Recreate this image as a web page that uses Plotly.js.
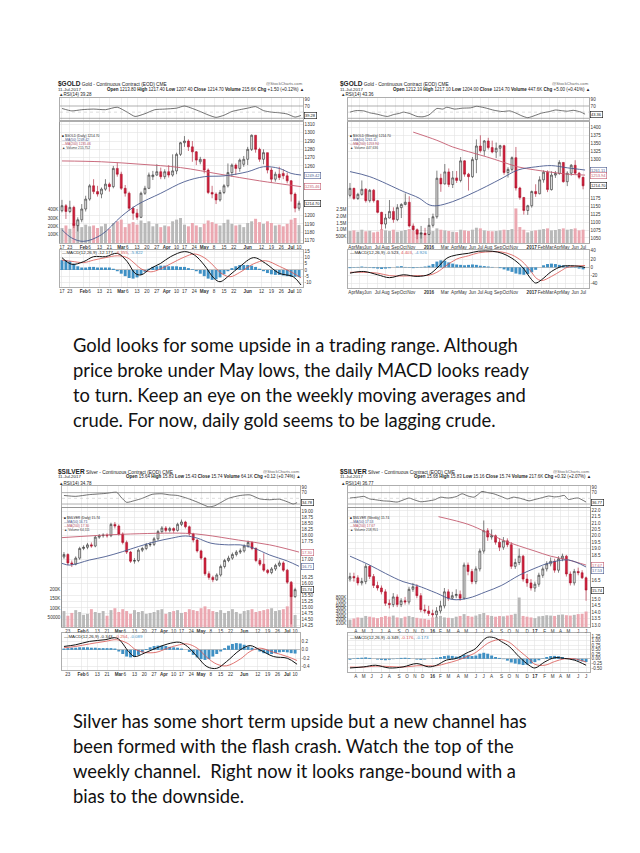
<!DOCTYPE html>
<html><head><meta charset="utf-8">
<script src="https://cdn.plot.ly/plotly-3.0.1.min.js"></script>
<style>html,body{margin:0;padding:0;background:#fff;}#page{width:640px;height:853px;}</style>
</head><body><div id="page"></div>
<script>
// ================= DATA =================
// ---- $GOLD daily (2-session candles; x = session number counted from 17-Jan-2017)
const gdSession=[0,2,4,6,8,10,12,14,16,18,20,22,24,26,28,30,32,34,36,38,40,42,44,46,48,50,52,54,56,58,60,62,64,66,68,70,72,74,76,78,80,82,84,86,88,90,92,94,96,98,100,102,104,106,108,110,112,114,116,118,120];
const gdOpen=[1206,1212,1205,1210,1188,1195,1208,1220,1236,1229,1226,1232,1238,1235,1257,1250,1233,1227,1209,1203,1198,1227,1233,1247,1249,1253,1247,1253,1249,1254,1274,1288,1290,1283,1277,1265,1268,1255,1228,1226,1219,1228,1236,1252,1261,1257,1262,1268,1280,1297,1280,1268,1276,1255,1244,1250,1251,1248,1242,1226,1209];
const gdHigh=[1219,1214,1218,1212,1198,1214,1224,1238,1244,1236,1234,1244,1240,1260,1264,1253,1237,1229,1211,1208,1229,1236,1252,1254,1262,1258,1256,1261,1274,1276,1289,1296,1292,1290,1278,1271,1268,1257,1236,1228,1231,1238,1263,1263,1263,1269,1272,1283,1298,1297,1282,1280,1276,1258,1253,1259,1256,1252,1243,1228,1218];
const gdLow=[1204,1196,1203,1185,1181,1192,1205,1218,1226,1223,1221,1230,1229,1233,1247,1231,1223,1206,1195,1195,1197,1225,1232,1243,1248,1244,1244,1246,1247,1250,1272,1283,1278,1265,1261,1262,1251,1226,1221,1214,1217,1226,1234,1247,1249,1253,1259,1261,1278,1276,1265,1262,1251,1240,1241,1243,1244,1239,1217,1204,1206];
const gdClose=[1212,1205,1210,1188,1195,1208,1220,1236,1229,1226,1232,1238,1235,1257,1250,1233,1227,1209,1203,1198,1227,1233,1249,1249,1253,1247,1253,1249,1254,1274,1288,1290,1283,1277,1267,1268,1255,1228,1226,1219,1228,1236,1252,1261,1257,1267,1268,1280,1297,1280,1268,1276,1255,1244,1250,1246,1248,1242,1226,1209,1215];
const gdVolume=[180,210,170,240,260,190,220,200,210,180,200,230,170,240,260,280,190,230,250,220,270,240,260,200,230,190,210,200,260,280,300,220,200,240,210,190,230,270,250,230,210,240,280,230,210,220,190,240,260,290,250,230,260,240,210,220,200,230,280,300,215];
const gdMa50X=[0,5,11,20,30,38,50,62,72,82,94,102,110,116,121];
const gdMa50=[1183,1173,1169,1177,1199,1213,1227,1241,1247,1248,1253,1259,1257,1251,1249];
const gdMa200X=[0,20,40,60,80,100,121];
const gdMa200=[1266,1265,1262,1258,1250,1242,1235];
const gdRsiX=[0,5,10,16,22,28,33,37,42,47,52,58,62,66,70,74,78,82,86,90,94,98,102,106,110,114,118,121];
const gdRsi=[62,54,58,60,58,66,50,36,45,58,60,63,70,62,52,41,33,40,52,58,63,68,55,50,48,44,34,39.3];
const gdMacdX=[0,5,11,16,22,28,33,37,40,45,50,55,62,67,72,77,80,85,90,97,103,110,117,121];
const gdMacd=[10,4.6,6.8,10.8,10.8,13.5,6.8,-2.7,-4,1.4,5.4,10.8,14.9,12.2,4,-6.8,-9.5,-4,2.7,10,5.4,-2.7,-5.4,-12.2];
const gdSignal=[8,7,6,8,10,11.5,10,5,1,-1.5,1,5,10.5,13,10,3,-2,-5.5,-2,5,7.5,3,-2.5,-6.4];
const gdHist=[8,8,7,5,3,2,2,2.5,2.5,2,2,2,2,1,-1,-3,-5,-6.5,-7,-6,-4,-1.5,1,2.5,3,3.5,3.5,3,3,3,2.5,2.5,1.5,0.5,-1,-3,-5,-7,-8,-7.5,-6,-3.5,-1,1.5,3,4,4,4,3.5,2.5,1,-1,-2.5,-3.5,-4,-4,-4.5,-5,-5.5,-5.5,-5.8];
const gdTickAt=[0,4,11,14,19,24,30,33,38,43,48,53,58,62,67,72,77,82,87,94,101,106,111,116,120];
const gdTickText=["17","23","<b>Feb</b>","6","13","21","<b>Mar</b>","6","13","20","27","<b>Apr</b>","10","17","24","<b>May</b>","8","15","22","<b>Jun</b>","12","19","26","<b>Jul</b>","10"];

// ---- $GOLD weekly (2-week candles; x = week number counted from 30-Mar-2015)
const gwWeek=[0,2,4,6,8,10,12,14,16,18,20,22,24,26,28,30,32,34,36,38,40,42,44,46,48,50,52,54,56,58,60,62,64,66,68,70,72,74,76,78,80,82,84,86,88,90,92,94,96,98,100,102,104,106,108,110,112,114,116,118];
const gwOpen=[1185,1207,1175,1188,1204,1168,1201,1168,1131,1094,1113,1134,1108,1146,1156,1163,1088,1076,1062,1065,1061,1090,1117,1239,1221,1259,1219,1240,1232,1294,1252,1244,1298,1341,1326,1357,1336,1322,1334,1342,1257,1267,1304,1208,1178,1137,1152,1197,1190,1234,1258,1203,1249,1254,1289,1228,1255,1280,1255,1242];
const gwHigh=[1224,1209,1193,1232,1208,1205,1205,1170,1133,1126,1170,1147,1157,1160,1191,1182,1096,1080,1088,1082,1113,1127,1263,1253,1284,1270,1262,1262,1306,1296,1256,1306,1362,1375,1360,1367,1358,1352,1345,1345,1274,1308,1338,1212,1180,1155,1200,1220,1245,1264,1264,1261,1262,1296,1290,1261,1284,1296,1259,1244];
const gwLow=[1178,1170,1170,1184,1162,1162,1162,1128,1077,1080,1112,1098,1103,1113,1153,1083,1072,1046,1048,1058,1059,1083,1111,1196,1219,1211,1208,1224,1226,1244,1200,1240,1255,1320,1310,1330,1318,1303,1308,1250,1241,1260,1200,1171,1124,1123,1146,1180,1188,1225,1195,1200,1240,1250,1225,1214,1247,1250,1236,1204];
const gwClose=[1207,1175,1188,1204,1168,1201,1168,1131,1094,1113,1134,1108,1146,1156,1163,1088,1076,1062,1065,1061,1090,1117,1239,1221,1259,1219,1240,1232,1294,1252,1244,1298,1341,1326,1357,1336,1322,1334,1342,1257,1267,1304,1208,1178,1137,1152,1197,1190,1234,1258,1203,1249,1254,1289,1228,1255,1280,1255,1242,1215];
const gwVolume=[900,950,850,1000,880,920,800,850,1050,950,900,1000,850,900,980,1050,900,950,800,700,850,900,1100,1000,950,900,850,820,1000,950,900,1000,1150,1100,950,900,880,900,950,1000,980,1050,2600,1200,1000,800,900,950,1000,1050,1100,950,980,1050,1100,1000,1050,1100,950,1000];
const gwMa50X=[0,10,27,35,40,44,52,60,69,77,85,94,102,110,119];
const gwMa50=[1260,1244,1197,1176,1155,1152,1165,1186,1213,1239,1265,1275,1279,1272,1265];
const gwMa200X=[32,44,52,60,69,77,85,94,102,110,119];
const gwMa200=[1385,1359,1338,1323,1307,1291,1275,1265,1258,1252,1249];
const gwRsiX=[0,3,7,10,14,17,19,22,25,27,30,34,37,40,44,47,49,53,57,61,64,67,69,73,77,81,84,87,90,94,97,101,104,107,110,113,117,119];
const gwRsi=[50,55,54,48,43,38,36,42,46,50,46,36,35,41,62,60,66,60,63,64,69,66,63,56,52,54,47,38,32,40,47,52,57,55,53,56,50,43.4];
const gwMacdX=[0,7,14,20,27,34,40,44,49,54,60,65,72,77,82,87,92,94,97,102,107,110,117,119];
const gwMacd=[-14,-10,-18,-25,-18,-22,-17,-2,22,30,34,39,39,34,22,2,-30,-38,-30,-10,2,4,2,-0.5];
const gwSignal=[-12,-12,-14,-20,-21,-20,-19,-12,5,20,28,35,38,37,30,15,-12,-25,-32,-22,-8,0,4,4.4];
const gwHist=[-2,-1,1,2,1,-1,-2,-3,-4,-3,-2,0,2,3,1,-1,-2,-1,1,2,4,8,14,17,16,12,9,7,6,5,6,7,6,4,3,2,1,0,-2,-5,-8,-11,-15,-17,-18,-16,-12,-6,0,5,8,9,8,6,5,3,1,-1,-3,-4.9];
const gwTickAt=[1,5,9,14,18,23,27,31,40,48,53,57,62,66,70,75,79,83,92,97,101,105,109,114,118];
const gwTickText=["Apr","May","Jun","Jul","Aug","Sep","Oct","Nov","<b>2016</b>","Mar","Apr","May","Jun","Jul","Aug","Sep","Oct","Nov","<b>2017</b>","Feb","Mar","Apr","May","Jun","Jul"];

// ---- $SILVER daily (2-session candles)
const sdSession=[0,2,4,6,8,10,12,14,16,18,20,22,24,26,28,30,32,34,36,38,40,42,44,46,48,50,52,54,56,58,60,62,64,66,68,70,72,74,76,78,80,82,84,86,88,90,92,94,96,98,100,102,104,106,108,110,112,114,116,118,120];
const sdOpen=[16.95,17.10,17.20,16.85,16.80,17.05,17.45,17.50,17.60,17.55,17.92,17.98,18.00,17.98,18.45,18.38,18.05,17.70,17.30,16.92,16.95,17.38,17.45,17.60,17.62,17.85,18.15,18.30,18.20,18.28,18.20,18.45,18.55,18.35,18.05,17.80,17.35,17.05,16.40,16.25,16.15,16.35,16.70,16.95,17.05,17.20,17.30,17.35,17.55,17.70,17.45,16.95,16.80,16.55,16.45,16.60,16.75,16.85,16.55,16.05,15.45];
const sdHigh=[17.22,17.30,17.25,16.95,17.12,17.52,17.58,17.68,17.70,17.98,18.05,18.08,18.08,18.52,18.55,18.45,18.12,17.78,17.35,17.05,17.45,17.52,17.68,17.72,17.92,18.22,18.38,18.38,18.35,18.33,18.52,18.65,18.60,18.40,18.10,17.85,17.40,17.10,16.50,16.32,16.42,16.78,17.02,17.15,17.28,17.38,17.45,17.62,17.78,17.75,17.50,17.05,17.25,16.60,16.68,16.82,16.95,16.92,16.60,16.10,15.82];
const sdLow=[16.88,17.02,16.75,16.68,16.75,16.98,17.38,17.42,17.48,17.50,17.85,17.90,17.90,17.92,18.28,17.98,17.62,17.22,16.85,16.82,16.88,17.30,17.38,17.52,17.55,17.78,18.08,18.12,18.12,18.10,18.15,18.38,18.28,17.98,17.70,17.28,16.98,16.32,16.15,16.05,16.10,16.28,16.62,16.88,16.98,17.12,17.22,17.28,17.48,17.38,16.88,16.72,16.48,16.38,16.38,16.52,16.68,16.48,15.98,14.30,15.40];
const sdClose=[17.10,17.20,16.85,16.80,17.05,17.45,17.50,17.60,17.55,17.92,17.98,18.00,17.98,18.45,18.38,18.05,17.70,17.30,16.92,16.95,17.38,17.45,17.60,17.62,17.85,18.15,18.30,18.20,18.28,18.20,18.45,18.55,18.35,18.05,17.80,17.35,17.05,16.40,16.25,16.15,16.35,16.70,16.95,17.05,17.20,17.30,17.35,17.55,17.70,17.45,16.95,16.80,16.55,16.45,16.60,16.75,16.85,16.55,16.05,15.45,15.74];
const sdVolume=[70,85,60,75,90,80,65,70,95,80,75,85,60,90,100,80,95,85,70,90,80,85,70,75,80,90,95,70,80,85,90,75,80,95,90,85,100,110,95,85,80,90,75,85,95,80,70,85,90,95,80,85,90,95,100,85,90,95,110,225,64];
const sdMa50X=[1,5,15,23,32,40,49,57,64,70,77,86,92,99,107,116,122];
const sdMa50=[16.83,16.76,16.97,17.11,17.32,17.53,17.74,17.88,17.97,17.88,17.67,17.60,17.60,17.46,17.18,16.93,16.71];
const sdMa200X=[1,32,64,74,91,107,122];
const sdMa200=[17.90,18.04,18.08,18.01,17.80,17.60,17.30];
const sdRsiX=[2,8,15,23,29,31,34,38,42,47,52,56,60,65,70,73,76,79,82,86,92,97,102,107,112,116,119,121];
const sdRsi=[60,57,63,67,71,55,36,42,50,64,66,62,60,50,37,28,20,24,35,50,60,62,48,45,47,38,30,34.8];
const sdMacdX=[2,8,15,23,29,35,38,43,49,55,61,65,70,75,80,85,92,97,102,109,116,121];
const sdMacd=[0.08,0.12,0.2,0.24,0.28,-0.04,-0.16,-0.08,0.04,0.14,0.18,0.08,-0.16,-0.4,-0.44,-0.28,0,0.1,0,-0.16,-0.2,-0.343];
const sdSignal=[0.05,0.08,0.14,0.2,0.24,0.14,0.02,-0.06,-0.06,0.04,0.12,0.14,0.04,-0.18,-0.34,-0.38,-0.22,-0.04,0.04,-0.06,-0.16,-0.254];
const sdHist=[0.03,0.03,0.04,0.05,0.05,0.06,0.06,0.06,0.05,0.05,0.04,0.04,0.04,0.04,0.03,-0.04,-0.10,-0.16,-0.18,-0.17,-0.12,-0.06,0.02,0.06,0.09,0.10,0.10,0.09,0.07,0.06,0.05,0.03,0.0,-0.05,-0.12,-0.18,-0.22,-0.24,-0.22,-0.16,-0.10,-0.04,0.04,0.10,0.14,0.16,0.15,0.12,0.08,0.05,0.01,-0.04,-0.08,-0.10,-0.10,-0.08,-0.06,-0.05,-0.06,-0.08,-0.089];
const sdTickAt=[4,11,14,19,24,30,33,38,43,48,53,58,62,67,72,77,82,87,94,101,106,111,116,120];
const sdTickText=["23","<b>Feb</b>","6","13","21","<b>Mar</b>","6","13","20","27","<b>Apr</b>","10","17","24","<b>May</b>","8","15","22","<b>Jun</b>","12","19","26","<b>Jul</b>","10"];

// ---- $SILVER weekly (2-week candles)
const swWeek=[-2,0,2,4,6,8,10,12,14,16,18,20,22,24,26,28,30,32,34,36,38,40,42,44,46,48,50,52,54,56,58,60,62,64,66,68,70,72,74,76,78,80,82,84,86,88,90,92,94,96,98,100,102,104,106,108,110,112,114,116,118];
const swOpen=[16.6,16.8,16.7,16.3,16.4,17.6,16.8,16.1,15.9,15.6,14.7,14.6,15.2,14.6,14.9,14.8,15.8,16.0,15.3,14.2,14.1,13.9,13.8,14.1,14.5,15.6,15.1,15.3,15.4,15.1,17.7,17.2,16.4,17.4,18.8,20.4,19.9,20.0,19.5,19.1,19.6,19.3,17.6,17.9,18.4,16.6,16.3,15.9,16.2,16.9,17.4,17.8,18.0,17.3,18.2,18.4,17.0,16.3,17.2,17.1,16.7];
const swHigh=[17.1,17.1,16.9,16.7,17.8,17.7,17.0,16.4,16.1,15.8,15.0,15.5,15.4,15.1,15.2,16.0,16.3,16.2,15.5,14.6,14.5,14.2,14.4,14.9,15.9,15.8,15.6,15.8,15.7,17.9,17.9,17.4,17.6,19.0,21.2,20.6,20.5,20.1,19.8,19.9,19.8,19.5,18.2,19.0,18.5,17.0,16.6,16.4,17.1,17.6,18.0,18.3,18.2,18.4,18.6,18.5,17.2,17.4,17.5,17.3,16.8];
const swLow=[16.4,16.4,16.1,16.1,16.2,16.6,15.9,15.7,15.4,14.5,14.3,14.4,14.4,14.4,14.6,14.6,15.6,15.1,14.0,13.9,13.7,13.6,13.6,13.9,14.3,14.9,15.0,15.1,14.9,15.0,16.9,16.2,16.2,17.2,18.6,19.6,19.7,19.3,18.8,18.9,19.1,17.4,17.4,17.7,16.4,16.0,15.7,15.6,16.0,16.7,17.2,17.6,17.1,17.1,18.0,16.8,16.1,16.1,16.9,16.6,14.9];
const swClose=[16.8,16.7,16.3,16.4,17.6,16.8,16.1,15.9,15.6,14.7,14.6,15.2,14.6,14.9,14.8,15.8,16.0,15.3,14.2,14.1,13.9,13.8,14.1,14.5,15.6,15.1,15.3,15.4,15.1,17.7,17.2,16.4,17.4,18.8,20.4,19.9,20.0,19.5,19.1,19.6,19.3,17.6,17.9,18.4,16.6,16.3,15.9,16.2,16.9,17.4,17.8,18.0,17.3,18.2,18.4,17.0,16.3,17.2,17.1,16.7,15.74];
const swVolume=[200,230,260,250,300,280,260,240,270,300,280,310,260,240,280,300,270,250,230,220,200,260,280,300,260,250,240,280,300,350,300,280,310,350,380,320,300,280,300,290,310,330,360,800,300,280,260,240,290,300,320,310,300,330,340,320,310,330,350,360,420];
const swMa50X=[-2,8,16,25,32,42,50,58,67,75,84,92,100,109,118];
const swMa50=[18.4,17.7,17.05,16.4,16.1,15.5,15.0,15.1,15.6,16.1,16.9,17.45,17.9,18.1,17.55];
const swMa200X=[43,58,67,75,84,92,100,109,118];
const swMa200=[21.5,20.9,20.3,19.7,19.2,18.8,18.4,18.1,17.7];
const swRsiX=[-2,3,5,8,11,15,18,22,25,28,31,34,38,41,44,48,52,55,58,61,63,65,68,71,75,78,81,84,87,89,92,95,99,102,104,107,109,112,114,118];
const swRsi=[51,55,57,48,45,41,40,37,44,51,44,38,41,45,54,51,56,66,58,54,63,74,70,66,56,48,54,51,45,41,46,51,58,55,56,60,46,50,51,37];
const swMacdX=[-2,5,11,18,25,32,38,42,47,52,57,62,65,68,72,75,79,84,89,92,97,102,107,112,118];
const swMacd=[-0.5,-0.44,-0.35,-0.5,-0.44,-0.26,-0.44,-0.35,-0.07,0.02,0.3,0.57,0.94,1.18,1.13,0.94,0.67,0.11,-0.35,-0.5,-0.17,0.06,0.02,-0.07,-0.35];
const swSignal=[-0.45,-0.45,-0.4,-0.42,-0.45,-0.38,-0.38,-0.38,-0.25,-0.1,0.1,0.35,0.6,0.85,1.02,1.05,0.9,0.45,0.0,-0.3,-0.35,-0.15,0.0,0.0,-0.18];
const swHist=[-0.05,0.02,0.05,0.06,0.08,0.05,0.0,-0.04,-0.06,-0.08,-0.05,-0.02,0.02,0.05,0.06,0.04,0.0,-0.04,-0.06,-0.04,0.0,0.03,0.06,0.10,0.15,0.18,0.16,0.12,0.15,0.22,0.20,0.15,0.18,0.28,0.33,0.28,0.18,0.10,0.05,-0.02,-0.10,-0.20,-0.26,-0.30,-0.34,-0.32,-0.26,-0.18,-0.08,0.02,0.10,0.15,0.16,0.14,0.10,0.04,-0.02,-0.06,-0.10,-0.14,-0.173];
const swTickAt=[1,5,9,14,18,23,27,31,35,40,44,48,53,57,62,66,70,75,79,83,88,92,97,101,105,109,114,118];
const swTickText=["A","M","J","J","A","S","O","N","D","<b>16</b>","F","M","A","M","J","J","A","S","O","N","D","<b>17</b>","F","M","A","M","J","J"];

// ---- commentary text
const para1=["Gold looks for some upside in a trading range. Although","price broke under May lows, the daily MACD looks ready","to turn. Keep an eye on the weekly moving averages and","crude. For now, daily gold seems to be lagging crude."];
const para2=["Silver has some short term upside but a new channel has","been formed with the flash crash. Watch the top of the","weekly channel.\u00a0 Right now it looks range-bound with a","bias to the downside."];

// ================= BUILD =================
const W=640,H=853;
const px=v=>v/W, py=v=>1-v/H;
const CF='"Liberation Sans", Arial, sans-serif';
const TF={family:CF,size:4.6,color:'#333'};
const GRID='#e3e3e3', FRAME='#8c8c8c';
const MA50C='#4a5a8e', MA200C='#c45c70';
const layout={width:W,height:H,margin:{l:0,r:0,t:0,b:0},paper_bgcolor:'#fff',plot_bgcolor:'#fff',showlegend:false,
  font:{family:CF,size:5,color:'#222'},annotations:[],shapes:[],bargap:0.25};
const traces=[];
function T(x,y,text,o){layout.annotations.push(Object.assign({xref:'paper',yref:'paper',x:px(x),y:py(y),text:text,showarrow:false,xanchor:'left',yanchor:'middle',borderpad:0,font:{family:CF,size:4.8,color:'#222'}},o||{}));}
function BOX(x,y,text,col){layout.annotations.push({xref:'paper',yref:'paper',x:px(x),y:py(y),text:text,showarrow:false,xanchor:'left',yanchor:'middle',
  font:{family:CF,size:4.0,color:col},bgcolor:'#fff',bordercolor:col,borderwidth:0.6,borderpad:0.4});}
// keep ticks that are not hidden under a value box
function freeTicks(vals,toPx,boxY){return vals.filter(v=>boxY.every(b=>Math.abs(toPx(v)-b)>5.4));}

function addChart(i,c){
  const xP=3*i+1,xM=3*i+2,xR=3*i+3,yR=4*i+1,yV=4*i+2,yP=4*i+3,yM=4*i+4;
  const X=n=>n===1?'x':'x'+n, Y=n=>n===1?'y':'y'+n, XK=n=>n===1?'xaxis':'xaxis'+n, YK=n=>n===1?'yaxis':'yaxis'+n;
  const lastOf=a=>a[a.length-1];
  // price-scale value boxes (close, MA50, MA200), stacked so they do not collide
  const pPer=(c.price[1]-c.price[0])/(c.priceRange[1]-c.priceRange[0]);
  const pPx=v=>c.price[0]+(c.priceRange[1]-v)*pPer;
  const boxes=[{y:pPx(lastOf(c.close)),t:c.closeLabel,col:'#111'},{y:pPx(lastOf(c.ma50)),t:c.ma50Label,col:MA50C},{y:pPx(lastOf(c.ma200)),t:c.ma200Label,col:MA200C}];
  boxes.sort((a,b)=>a.y-b.y);
  for(let k=1;k<boxes.length;k++) if(boxes[k].y-boxes[k-1].y<5.8) boxes[k].y=boxes[k-1].y+5.8;
  const allP=[]; for(let k=Math.ceil(c.priceRange[0]/c.priceDtick-1e-9);k*c.priceDtick<=c.priceRange[1]+1e-9;k++) allP.push(+(k*c.priceDtick).toFixed(4));
  const priceTicks=freeTicks(allP,pPx,boxes.map(b=>b.y));
  // RSI value box
  const rPer=(c.rsi[1]-c.rsi[0])/(c.rsiRange[1]-c.rsiRange[0]);
  const rPx=v=>c.rsi[0]+(c.rsiRange[1]-v)*rPer;
  const rsiBoxY=rPx(lastOf(c.rsiV));
  const rsiTicks=freeTicks([10,30,50,70,90].filter(v=>v>c.rsiRange[0]&&v<c.rsiRange[1]),rPx,[rsiBoxY]);

  const baseX={domain:[px(c.left),px(c.right)],range:c.xRange,tickmode:'array',tickvals:c.tickAt,ticktext:c.tickText,tickfont:TF,ticks:'',ticklen:0,
    showgrid:true,gridcolor:GRID,gridwidth:0.6,zeroline:false,showline:true,linecolor:FRAME,linewidth:0.7,mirror:true,fixedrange:true,tickangle:0,automargin:false};
  layout[XK(xP)]=Object.assign({},baseX,{anchor:Y(yV),rangeslider:{visible:false}});
  layout[XK(xM)]=Object.assign({},baseX,{anchor:Y(yM),matches:X(xP)});
  layout[XK(xR)]=Object.assign({},baseX,{anchor:Y(yR),matches:X(xP),showticklabels:false});
  const baseY={tickfont:TF,ticks:'',zeroline:false,showline:true,linecolor:FRAME,linewidth:0.7,mirror:true,fixedrange:true,gridcolor:GRID,gridwidth:0.6,automargin:false};
  layout[YK(yR)]=Object.assign({},baseY,{domain:[py(c.rsi[1]),py(c.rsi[0])],range:c.rsiRange,tickmode:'array',tickvals:rsiTicks,side:'right',anchor:X(xR),showgrid:false});
  layout[YK(yV)]=Object.assign({},baseY,{domain:[py(c.price[1]),py(c.price[0])],range:c.volRange,tickmode:'array',tickvals:c.volTicks,ticktext:c.volText,side:'left',anchor:X(xP),showgrid:false});
  layout[YK(yP)]=Object.assign({},baseY,{overlaying:Y(yV),range:c.priceRange,tickmode:'array',tickvals:priceTicks,tickformat:c.priceFmt,side:'right',anchor:X(xP),showgrid:true});
  layout[YK(yM)]=Object.assign({},baseY,{domain:[py(c.macd[1]),py(c.macd[0])],range:c.macdRange,tickmode:'array',tickvals:c.macdTicks,ticktext:c.macdText,side:'right',anchor:X(xM),showgrid:true,zeroline:true,zerolinecolor:'#9a9a9a',zerolinewidth:0.6});
  // RSI guide lines
  [70,30].forEach(v=>layout.shapes.push({type:'line',xref:X(xR)+' domain',x0:0,x1:1,yref:Y(yR),y0:v,y1:v,line:{color:'#7a7a7a',width:0.6}}));
  layout.shapes.push({type:'line',xref:X(xR)+' domain',x0:0,x1:1,yref:Y(yR),y0:50,y1:50,line:{color:'#bbb',width:0.5,dash:'dot'}});
  // volume
  traces.push({type:'bar',x:c.x,y:c.vol,xaxis:X(xP),yaxis:Y(yV),width:c.barW,
    marker:{color:c.close.map((v,k)=>v>=c.open[k]?'#b9b9b9':'#eba8b1'),line:{width:0}},hoverinfo:'skip'});
  // candles
  traces.push({type:'candlestick',x:c.x,open:c.open,high:c.high,low:c.low,close:c.close,xaxis:X(xP),yaxis:Y(yP),whiskerwidth:0,
    increasing:{line:{color:'#2e2e2e',width:0.6},fillcolor:'#e4e4e4'},decreasing:{line:{color:'#a9122b',width:0.6},fillcolor:'#d21e3a'},hoverinfo:'skip'});
  traces.push({type:'scatter',mode:'lines',x:c.ma200x,y:c.ma200,xaxis:X(xP),yaxis:Y(yP),line:{color:MA200C,width:0.9,shape:'spline'},hoverinfo:'skip'});
  traces.push({type:'scatter',mode:'lines',x:c.ma50x,y:c.ma50,xaxis:X(xP),yaxis:Y(yP),line:{color:MA50C,width:0.9,shape:'spline'},hoverinfo:'skip'});
  // RSI
  traces.push({type:'scatter',mode:'lines',x:c.rsiX,y:c.rsiV,xaxis:X(xR),yaxis:Y(yR),line:{color:'#333',width:0.7,shape:'spline',smoothing:0.6},hoverinfo:'skip'});
  // MACD
  traces.push({type:'bar',x:c.x,y:c.hist,xaxis:X(xM),yaxis:Y(yM),width:c.barW,marker:{color:'#3f90c4',line:{width:0}},hoverinfo:'skip'});
  traces.push({type:'scatter',mode:'lines',x:c.macdX,y:c.signal,xaxis:X(xM),yaxis:Y(yM),line:{color:'#d9534f',width:0.8,shape:'spline'},hoverinfo:'skip'});
  traces.push({type:'scatter',mode:'lines',x:c.macdX,y:c.macdV,xaxis:X(xM),yaxis:Y(yM),line:{color:'#111',width:1,shape:'spline'},hoverinfo:'skip'});
  // value boxes
  boxes.forEach(b=>BOX(c.right+0.5,b.y,b.t,b.col));
  BOX(c.right+0.5,rsiBoxY,c.rsiLast,'#111');
  // texts
  const L=c.textLeft;
  T(L,c.hy[0],'<b style="font-size:6.5px">'+c.sym+'</b> '+c.title);
  T(c.right+1,c.hy[0]-1,'@StockCharts.com',{xanchor:'right',font:{family:CF,size:4.2,color:'#666'}});
  T(L,c.hy[1],'11-Jul-2017',{font:{family:CF,size:4.4,color:'#222'}});
  T(c.right+2,c.hy[1],c.quote,{xanchor:'right',font:{family:CF,size:4.5,color:'#222'}});
  T(L+1,c.hy[2],'<span style="color:#333">\u25B2</span>RSI(14) '+c.rsiLast,{font:{family:CF,size:4.5,color:'#222'}});
  const ly=c.legendY, LF=3.3;
  T(c.left+1,ly[0],'<b>\u25A0</b> '+c.sym+' ('+c.period+') '+c.closeLabel,{font:{family:CF,size:LF,color:'#222'}});
  T(c.left+1,ly[1],'<span style="color:'+MA50C+'">\u2014</span>MA(50) '+c.ma50Label,{font:{family:CF,size:LF,color:'#3b4a80'}});
  T(c.left+1,ly[2],'<span style="color:'+MA200C+'">\u2014</span>MA(200) '+c.ma200Label,{font:{family:CF,size:LF,color:'#b14a60'}});
  T(c.left+1,ly[3],'\u25B2 Volume '+c.volLabel,{font:{family:CF,size:LF,color:'#444'}});
  T(c.left+1,c.macdLabelY,'<span style="color:#111">\u2014</span>'+c.macdLabel,{font:{family:CF,size:4.4,color:'#222'}});
}

const charts=[
 {left:60,right:303,textLeft:57,hy:[84.5,89.5,94.5],rsi:[98,120],price:[122,243],macd:[250,287],
  x:gdSession,open:gdOpen,high:gdHigh,low:gdLow,close:gdClose,vol:gdVolume,barW:1.5,xRange:[-1,122],tickAt:gdTickAt,tickText:gdTickText,
  priceRange:[1167,1313],priceDtick:10,priceFmt:'d',volRange:[0,1450],volTicks:[100,200,300,400],volText:['100K','200K','300K','400K'],
  ma50x:gdMa50X,ma50:gdMa50,ma200x:gdMa200X,ma200:gdMa200,rsiX:gdRsiX,rsiV:gdRsi,rsiRange:[24.5,96],
  macdX:gdMacdX,macdV:gdMacd,signal:gdSignal,hist:gdHist,macdRange:[-13.8,16.2],macdTicks:[-10,-5,0,5,10,15],macdText:['-10','-5','0','5','10','15'],
  sym:'$GOLD',period:'Daily',title:'Gold - Continuous Contract (EOD) CME',closeLabel:'1214.70',ma50Label:'1249.42',ma200Label:'1235.46',volLabel:'215,752',
  quote:'<b>Open</b> 1213.80 <b>High</b> 1217.40 <b>Low</b> 1207.40 <b>Close</b> 1214.70 <b>Volume</b> 215.6K <b>Chg</b> +1.50 (+0.12%) \u25B2',
  rsiLast:'39.28',legendY:[135.5,139.7,143.9,148.1],
  macdLabel:'MACD(12,26,9) -12.177, <span style="color:#d9534f">-6.355</span>, <span style="color:#3f90c4">-5.822</span>',macdLabelY:252.5},
 {left:348,right:589,textLeft:339,hy:[84.5,89.5,94.5],rsi:[98,120],price:[122,243],macd:[250,288],
  x:gwWeek,open:gwOpen,high:gwHigh,low:gwLow,close:gwClose,vol:gwVolume,barW:1.5,xRange:[-1,121],tickAt:gwTickAt,tickText:gwTickText,
  priceRange:[1034,1417],priceDtick:25,priceFmt:'d',volRange:[0,9100],volTicks:[500,1000,1500,2000,2500],volText:['500K','1.0M','1.5M','2.0M','2.5M'],
  ma50x:gwMa50X,ma50:gwMa50,ma200x:gwMa200X,ma200:gwMa200,rsiX:gwRsiX,rsiV:gwRsi,rsiRange:[24.5,96],
  macdX:gwMacdX,macdV:gwMacd,signal:gwSignal,hist:gwHist,macdRange:[-50,42],macdTicks:[-40,-20,0,20,40],macdText:['-40','-20','0','20','40'],
  sym:'$GOLD',period:'Weekly',title:'Gold - Continuous Contract (EOD) CME',closeLabel:'1214.70',ma50Label:'1261.11',ma200Label:'1253.94',volLabel:'447,636',
  quote:'<b>Open</b> 1212.10 <b>High</b> 1217.10 <b>Low</b> 1204.00 <b>Close</b> 1214.70 <b>Volume</b> 447.6K <b>Chg</b> +5.00 (+0.41%) \u25B2',
  rsiLast:'43.36',legendY:[135.5,139.7,143.9,148.1],
  macdLabel:'MACD(12,26,9) -0.523, <span style="color:#d9534f">4.403</span>, <span style="color:#3f90c4">-4.926</span>',macdLabelY:252.5},
 {left:62,right:300,textLeft:57,hy:[472,477,483],rsi:[486,507],price:[508,627],macd:[633,670],
  x:sdSession,open:sdOpen,high:sdHigh,low:sdLow,close:sdClose,vol:sdVolume,barW:1.5,xRange:[1,122.5],tickAt:sdTickAt,tickText:sdTickText,
  priceRange:[14.19,19.13],priceDtick:0.25,priceFmt:'.2f',volRange:[0,634],volTicks:[50,100,150,200],volText:['50000','100K','150K','200K'],
  ma50x:sdMa50X,ma50:sdMa50,ma200x:sdMa200X,ma200:sdMa200,rsiX:sdRsiX,rsiV:sdRsi,rsiRange:[19.6,93.2],
  macdX:sdMacdX,macdV:sdMacd,signal:sdSignal,hist:sdHist,macdRange:[-0.48,0.4],macdTicks:[-0.4,-0.2,0,0.2],macdText:['-0.4','-0.2','0.0','0.2'],
  sym:'$SILVER',period:'Daily',title:'Silver - Continuous Contract (EOD) CME',closeLabel:'15.74',ma50Label:'16.71',ma200Label:'17.30',volLabel:'64,111',
  quote:'<b>Open</b> 15.64 <b>High</b> 15.83 <b>Low</b> 15.43 <b>Close</b> 15.74 <b>Volume</b> 64.1K <b>Chg</b> +0.12 (+0.74%) \u25B2',
  rsiLast:'34.78',legendY:[517.5,521.7,525.9,530.1],
  macdLabel:'MACD(12,26,9) -0.343, <span style="color:#d9534f">-0.254</span>, <span style="color:#3f90c4">-0.089</span>',macdLabelY:636},
 {left:348,right:590,textLeft:339,hy:[472,477,483],rsi:[486,507],price:[508,627],macd:[633,672],
  x:swWeek,open:swOpen,high:swHigh,low:swLow,close:swClose,vol:swVolume,barW:1.5,xRange:[-3,120],tickAt:swTickAt,tickText:swTickText,
  priceRange:[12.84,22.18],priceDtick:0.5,priceFmt:'.1f',volRange:[0,3230],volTicks:[100,200,300,400,500,600,700,800],volText:['100K','200K','300K','400K','500K','600K','700K','800K'],
  ma50x:swMa50X,ma50:swMa50,ma200x:swMa200X,ma200:swMa200,rsiX:swRsiX,rsiV:swRsi,rsiRange:[19.6,93.2],
  macdX:swMacdX,macdV:swMacd,signal:swSignal,hist:swHist,macdRange:[-0.72,1.41],macdTicks:[-0.5,-0.25,0,0.25,0.5,0.75,1,1.25],macdText:['-0.50','-0.25','0.00','0.25','0.50','0.75','1.00','1.25'],
  sym:'$SILVER',period:'Weekly',title:'Silver - Continuous Contract (EOD) CME',closeLabel:'15.74',ma50Label:'17.53',ma200Label:'17.67',volLabel:'218,951',
  quote:'<b>Open</b> 15.68 <b>High</b> 15.83 <b>Low</b> 15.16 <b>Close</b> 15.74 <b>Volume</b> 217.6K <b>Chg</b> +0.32 (+2.07%) \u25B2',
  rsiLast:'36.77',legendY:[517.5,521.7,525.9,530.1],
  macdLabel:'MACD(12,26,9) -0.349, <span style="color:#d9534f">-0.176</span>, <span style="color:#3f90c4">-0.173</span>',macdLabelY:637}
];
charts.forEach((c,i)=>addChart(i,c));

// commentary paragraphs
const PF={family:'Lato, "Open Sans", sans-serif',size:18.35,color:'#111'};
const p1Y=[345.2,370.2,395.2,420.2], p2Y=[720.8,746,770.9,796.2];
para1.forEach((t,k)=>T(72,p1Y[k],t,{font:PF}));
para2.forEach((t,k)=>T(72,p2Y[k],t,{font:PF}));

Plotly.newPlot('page',traces,layout,{displayModeBar:false,staticPlot:true});
</script></body></html>
